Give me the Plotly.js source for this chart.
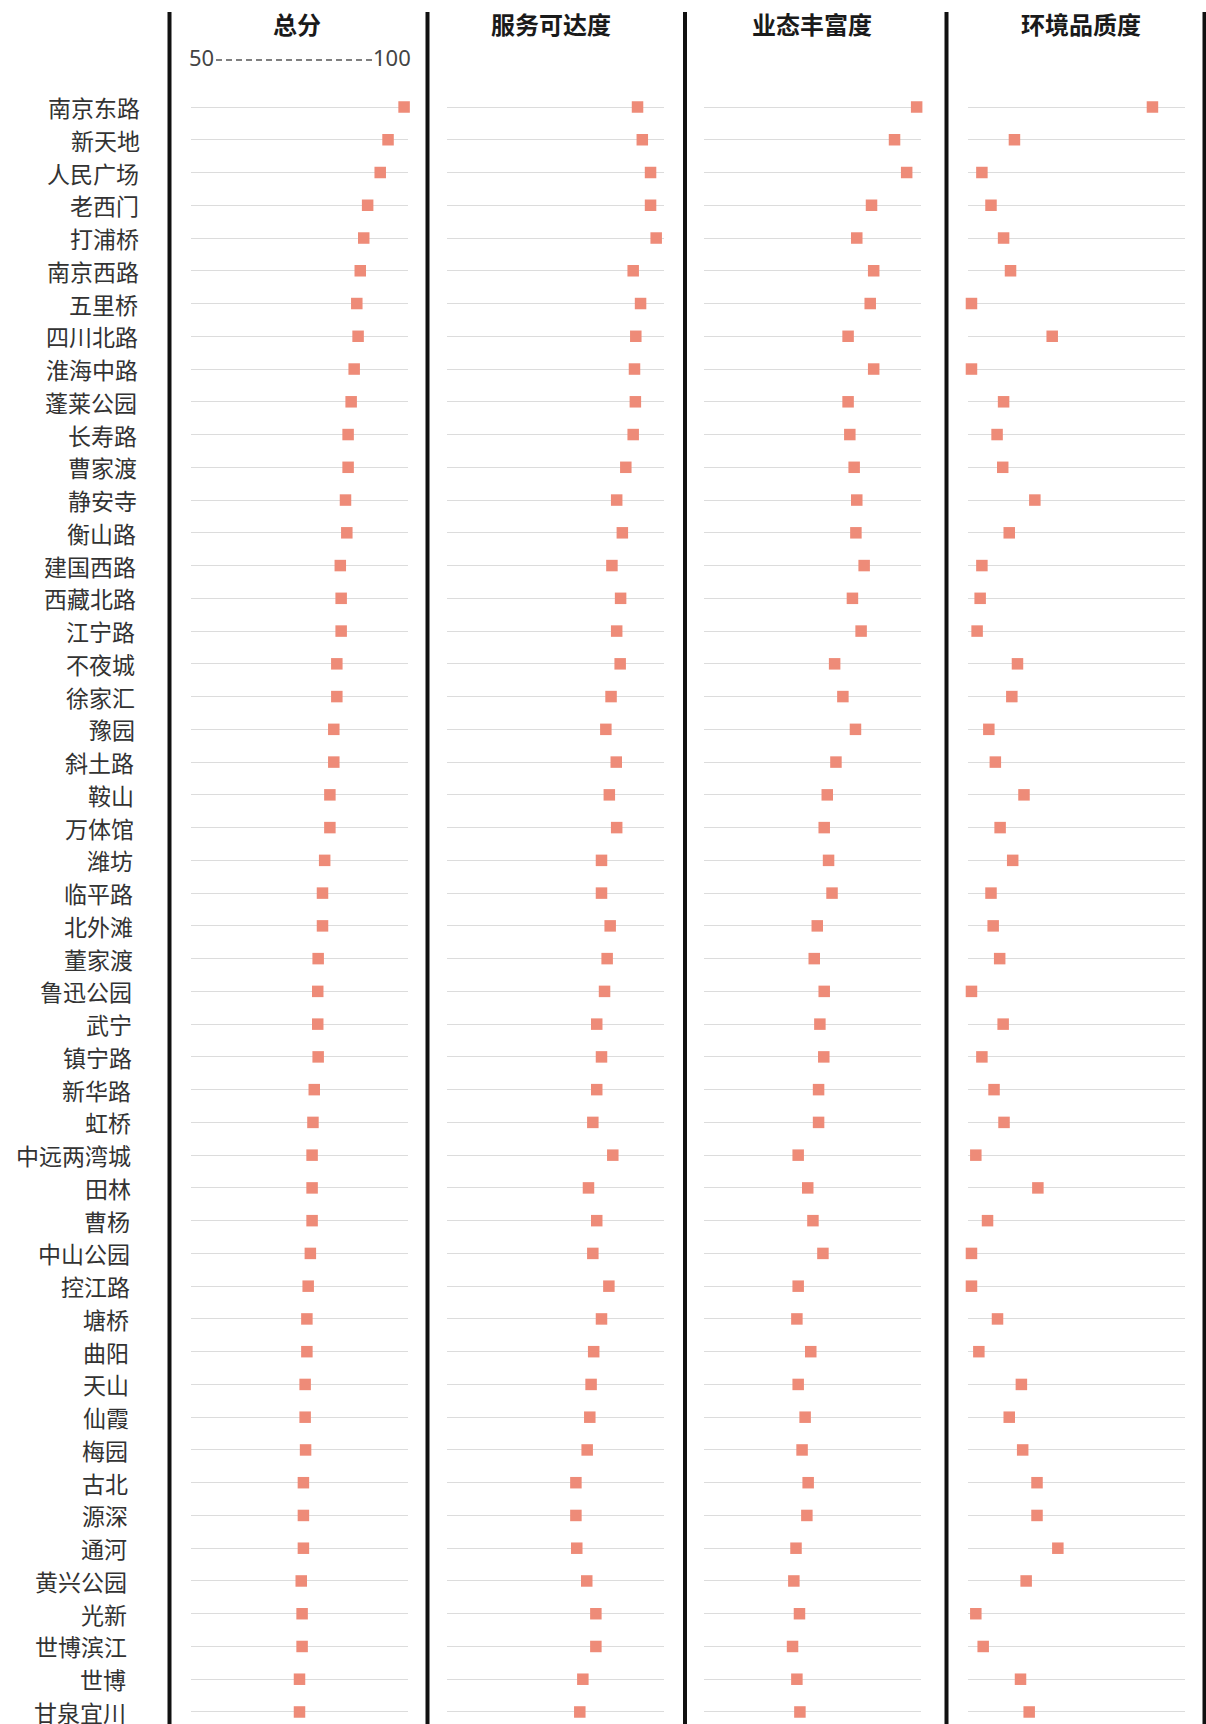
<!DOCTYPE html>
<html>
<head>
<meta charset="utf-8">
<script src="https://cdn.plot.ly/plotly-3.0.1.min.js"></script>
<style>
  html, body { margin: 0; padding: 0; background: #ffffff; }
  #chart { width: 1206px; height: 1724px; }
</style>
</head>
<body>
<div id="chart"></div>
<script>
// ---------------- data ----------------
const districts = [
  "南京东路","新天地","人民广场","老西门","打浦桥","南京西路","五里桥","四川北路","淮海中路","蓬莱公园",
  "长寿路","曹家渡","静安寺","衡山路","建国西路","西藏北路","江宁路","不夜城","徐家汇","豫园",
  "斜土路","鞍山","万体馆","潍坊","临平路","北外滩","董家渡","鲁迅公园","武宁","镇宁路",
  "新华路","虹桥","中远两湾城","田林","曹杨","中山公园","控江路","塘桥","曲阳","天山",
  "仙霞","梅园","古北","源深","通河","黄兴公园","光新","世博滨江","世博","甘泉宜川"
];
const columnTitles = ["总分", "服务可达度", "业态丰富度", "环境品质度"];
const scaleLabels = ["50", "100"];

const totalScore = [
  99.1,95.4,93.6,90.7,89.8,89.0,88.2,88.5,87.6,86.9,
  86.2,86.2,85.6,85.9,84.4,84.6,84.6,83.6,83.6,82.9,
  82.9,82.0,82.0,80.8,80.3,80.3,79.3,79.2,79.2,79.3,
  78.4,78.1,77.9,77.9,77.9,77.5,77.0,76.7,76.7,76.3,
  76.3,76.4,75.9,75.9,75.9,75.4,75.6,75.6,75.0,75.0
];
const serviceAccess = [
  93.9,95.0,96.9,96.9,98.2,92.9,94.6,93.5,93.2,93.4,
  92.9,91.2,89.1,90.4,88.0,90.0,89.1,89.9,87.8,86.6,
  89.0,87.4,89.1,85.6,85.6,87.6,86.9,86.3,84.5,85.6,
  84.5,83.6,88.2,82.6,84.5,83.6,87.3,85.6,83.8,83.2,
  82.9,82.3,79.7,79.7,79.9,82.2,84.3,84.3,81.3,80.6
];
const businessVariety = [
  99.0,93.9,96.7,88.6,85.2,89.1,88.3,83.2,89.1,83.2,
  83.6,84.6,85.2,85.0,86.9,84.2,86.2,80.1,82.0,84.9,
  80.4,78.4,77.7,78.7,79.5,76.1,75.4,77.7,76.7,77.6,
  76.4,76.4,71.7,73.9,75.1,77.4,71.7,71.4,74.6,71.7,
  73.3,72.6,74.0,73.7,71.2,70.7,72.0,70.4,71.4,72.1
];
const environmentQuality = [
  92.5,60.7,53.2,55.3,58.2,59.8,50.8,69.4,50.8,58.2,
  56.7,58.0,65.4,59.5,53.2,52.8,52.1,61.4,60.1,54.8,
  56.3,62.9,57.4,60.3,55.3,55.8,57.3,50.8,58.1,53.2,
  56.0,58.3,51.8,66.1,54.5,50.8,50.8,56.8,52.5,62.3,
  59.5,62.6,65.9,65.9,70.7,63.4,51.8,53.5,62.1,64.1
];
const seriesList = [totalScore, serviceAccess, businessVariety, environmentQuality];

// ---------------- layout helpers (pixels -> paper) ----------------
const W = 1206, H = 1724;
const px = v => v / W;
const py = v => 1 - v / H;

const colDomains = [[191, 408], [447, 664], [704, 921], [968, 1185]];
const titleX = [297, 551, 812, 1081];
const dividerX = [169.5, 427.5, 685, 946.5, 1204.5];

const markerColor = "#ee8b78";

const traces = seriesList.map((vals, i) => ({
  type: "scatter",
  mode: "markers",
  x: vals,
  y: districts,
  xaxis: i === 0 ? "x" : "x" + (i + 1),
  yaxis: "y",
  marker: { symbol: "square", size: 11.5, color: markerColor, line: { width: 0 } },
  cliponaxis: false,
  hoverinfo: "x+y",
  showlegend: false
}));

const layout = {
  width: W,
  height: H,
  margin: { l: 0, r: 0, t: 0, b: 0, pad: 0 },
  paper_bgcolor: "#ffffff",
  plot_bgcolor: "rgba(0,0,0,0)",
  font: { family: "Noto Sans CJK SC, Noto Sans, sans-serif", color: "#333" },
  showlegend: false,
  yaxis: {
    type: "category",
    categoryorder: "array",
    categoryarray: districts,
    range: [49.367, -1.0075],
    domain: [0, py(74)],
    showgrid: true,
    gridcolor: "#dcdcdc",
    gridwidth: 1,
    showticklabels: false,
    ticks: "",
    showline: false,
    zeroline: false,
    fixedrange: true
  },
  shapes: [],
  annotations: []
};

colDomains.forEach((d, i) => {
  const key = i === 0 ? "xaxis" : "xaxis" + (i + 1);
  layout[key] = {
    domain: [px(d[0]), px(d[1])],
    range: [50, 100],
    anchor: "y",
    showgrid: false,
    showticklabels: false,
    showline: false,
    zeroline: false,
    ticks: "",
    fixedrange: true
  };
});

// vertical dividers
dividerX.forEach(x => {
  layout.shapes.push({
    type: "line", xref: "paper", yref: "paper",
    x0: px(x), x1: px(x), y0: py(12), y1: 0,
    line: { color: "#111111", width: 4 }
  });
});

// column titles
columnTitles.forEach((t, i) => {
  layout.annotations.push({
    text: "<b>" + t + "</b>",
    xref: "paper", yref: "paper",
    x: px(titleX[i]), y: py(23),
    xanchor: "center", yanchor: "middle",
    showarrow: false,
    font: { family: "Noto Sans CJK SC", size: 24, color: "#1a1a1a" }
  });
});

// scale legend "50 ------ 100" on the total-score axis
layout.annotations.push({
  text: scaleLabels[0], xref: "paper", yref: "paper",
  x: px(187), y: py(57), xanchor: "left", yanchor: "middle",
  showarrow: false, font: { family: "Noto Sans", size: 22, color: "#444" }
});
layout.annotations.push({
  text: scaleLabels[1], xref: "paper", yref: "paper",
  x: px(413), y: py(57), xanchor: "right", yanchor: "middle",
  showarrow: false, font: { family: "Noto Sans", size: 22, color: "#444" }
});
layout.shapes.push({
  type: "line", xref: "paper", yref: "paper",
  x0: px(216), x1: px(372), y0: py(60), y1: py(60),
  line: { color: "#555", width: 1.6, dash: "6px,4px" }
});

// row labels (right aligned, slight drift as in the source scan)
districts.forEach((name, i) => {
  layout.annotations.push({
    text: name,
    xref: "paper", yref: "y",
    x: px(142 - 14 * i / 49), y: name,
    xanchor: "right", yanchor: "middle",
    showarrow: false,
    font: { family: "Noto Sans CJK SC", size: 23, color: "#333" }
  });
});

Plotly.newPlot("chart", traces, layout, { displayModeBar: false, staticPlot: true });
</script>
</body>
</html>
